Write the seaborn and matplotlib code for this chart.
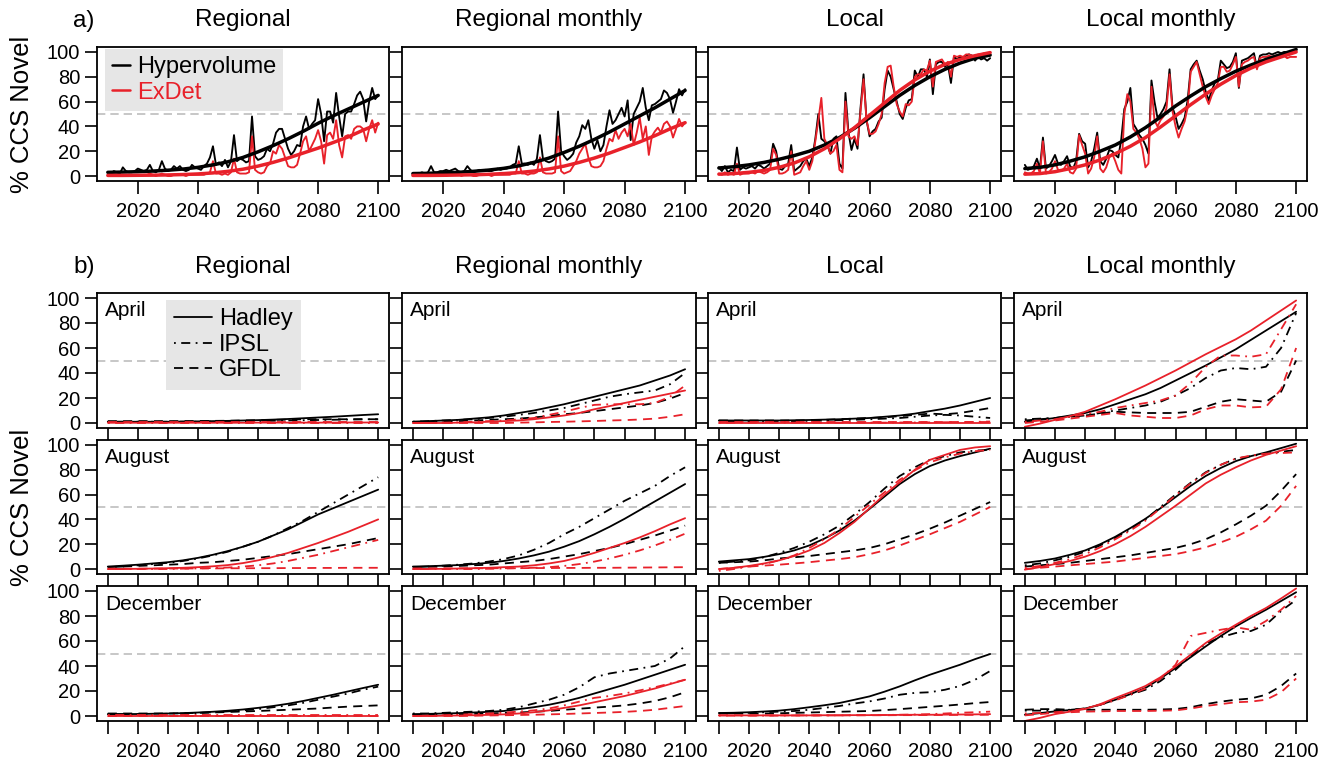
import matplotlib
matplotlib.use("Agg")
import matplotlib.pyplot as plt
import seaborn as sns
from matplotlib.lines import Line2D

# ---------------- data: panel a) (annual, 2010-2100) ----------------
YEARS_A = list(range(2010, 2101))
YEARS_FIT = list(range(2010, 2101, 5))

REG_HV = [3,2,4,3,2,7,4,3,3,4, 6,5,4,5,9,4,3,5,12,6, 4,5,8,6,8,5,4,5,9,7,
          6,5,8,10,15,24,9,11,8,13, 7,12,33,12,14,13,11,12,48,16,
          13,14,16,22,20,26,35,38,38,30, 22,17,20,25,24,40,48,38,42,45,
          62,50,28,52,52,43,67,48,32,50, 52,52,58,65,68,62,44,60,71,62, 65]
REG_ED = [0,0,0,0,0,0,0,0,0,0, 0,0,1,1,2,1,0,1,2,1, 0,0,1,1,1,1,0,1,1,1,
          1,1,1,2,3,12,2,2,1,2, 1,3,14,3,2,2,2,3,32,5,
          3,2,3,8,10,20,18,25,22,15, 8,7,7,9,18,28,32,20,25,30,
          37,28,10,33,35,30,45,25,15,32, 33,30,38,40,40,38,28,38,45,35, 43]
REGM_HV = [2,2,2,3,2,3,8,3,3,4, 4,5,4,5,6,4,3,4,8,5, 3,4,5,4,5,4,4,5,6,5,
           6,6,7,9,10,24,10,10,9,11, 9,14,33,14,12,11,12,14,52,20,
           16,13,15,18,27,32,41,38,45,30, 22,29,20,25,40,53,42,45,50,55,
           48,61,29,50,55,60,71,55,45,57, 58,60,62,69,67,62,51,60,70,65, 70]
REGM_ED = [0,0,0,0,0,0,1,0,0,0, 0,0,1,1,2,2,0,1,1,1, 0,0,1,1,1,1,0,1,1,1,
           1,1,1,2,2,12,2,2,1,2, 2,3,15,3,2,2,2,3,32,4,
           2,3,4,8,12,18,22,26,15,8, 7,7,8,12,22,30,28,37,30,35,
           38,32,42,25,35,47,30,40,17,32, 36,39,35,42,44,40,31,38,46,40, 43]
LOC_HV = [7,4,8,3,5,4,23,5,7,6, 7,8,6,9,8,6,8,10,26,20, 6,5,8,10,25,4,6,8,12,14,
          8,15,30,50,30,28,25,18,30,32, 10,6,67,35,21,30,22,55,82,45,
          32,36,38,44,47,70,85,80,70,60, 50,46,55,61,62,85,80,86,86,80,
          94,66,90,92,92,88,90,75,96,94, 96,95,97,98,97,93,96,94,95,93, 95]
LOC_ED = [2,1,3,1,2,1,10,1,2,2, 2,3,2,4,3,2,3,5,22,17, 2,2,3,5,20,1,2,3,8,12,
          5,12,28,45,63,30,25,18,20,25, 5,3,60,32,30,32,25,52,78,45,
          34,34,36,42,50,75,88,89,72,58, 52,48,58,57,60,80,82,82,86,85,
          93,72,92,93,94,90,92,80,97,96, 97,96,98,98,97,96,98,98,99,99, 99]
LOCM_HV = [9,5,6,8,14,6,31,6,8,12, 17,10,9,12,16,8,6,12,34,28, 26,7,12,22,35,12,9,14,21,20,
           17,15,30,54,60,71,42,38,33,30, 25,18,77,60,47,50,54,60,86,55,
           48,38,42,47,61,86,90,93,85,78, 68,61,69,75,77,93,90,87,88,92,
           99,71,93,94,95,97,99,87,97,98, 98,99,98,99,100,99,100,100,99,100, 101]
LOCM_ED = [3,2,2,4,10,2,28,2,3,6, 12,5,4,6,10,3,2,6,33,25, 18,2,6,15,32,6,3,7,15,18,
           12,5,2,50,66,60,38,35,30,22, 7,10,72,45,40,45,48,55,82,52,
           40,31,38,44,55,84,88,92,82,72, 64,58,65,70,75,88,88,84,85,90,
           96,72,90,92,93,95,96,86,95,96, 96,97,96,97,97,96,97,95,96,96, 96]

# smooth fits (5-yearly)
REG_HV_FIT = [3,3.2,3.5,4,4.7,5.6,7,9,11.5,15,19.5,24.5,30,36,42.5,48.5,54,59.5,65]
REG_ED_FIT = [0.5,0.5,0.6,0.7,0.9,1.2,1.7,2.5,3.8,5.5,8,11,14.5,18.5,22.5,27,31.5,37,42]
REGM_HV_FIT = [2,2.2,2.6,3,3.8,4.8,6.2,8.2,11,14.5,19,24,29.5,35.5,42,48.5,55,62,69]
REGM_ED_FIT = [0.5,0.5,0.6,0.8,1,1.4,2,2.8,4,5.7,8,11,14.5,18.5,23,27.5,32.5,38,43]
LOC_HV_FIT = [6.5,7.5,9,11,13.5,16.5,20,25,31,38.5,47,56,65,73,80,86,91,95,97.5]
LOC_ED_FIT = [1.5,2,3,4.5,7,10.5,15.5,22,30,39,49,59,69,77.5,84.5,90,94,97,99.5]
LOCM_HV_FIT = [6,7,9,12,15.5,20,25,31.5,39,47.5,56.5,64.5,72,78.5,84.5,89.5,94,98,102]
LOCM_ED_FIT = [1.5,2,3.5,6,9,13,18,24,31,39.5,48.5,57.5,66,74,81,87,92,96,100]

# ---------------- data: panel b) (5-yearly, 2010-2100) ----------------
YEARS_B = list(range(2010, 2101, 5))

# Regional, April
REG_APR_HV_HAD = [1,1,1,1,1,1.2,1.3,1.5,1.7,2,2.3,2.7,3.2,3.8,4.4,5,5.7,6.4,7]
REG_APR_HV_IPSL = [1,1,1,1,1,1,1,1.2,1.3,1.5,1.6,1.8,2,2.2,2.4,2.6,2.8,3,3]
REG_APR_HV_GFDL = [1.5,1.5,1.5,1.5,1.5,1.5,1.6,1.7,1.8,2,2.2,2.5,2.7,3,3,3,3,3,3]
REG_APR_ED_HAD = [0.2,0.2,0.2,0.2,0.2,0.2,0.2,0.2,0.2,0.2,0.3,0.3,0.3,0.3,0.3,0.3,0.4,0.4,0.4]
REG_APR_ED_IPSL = [0.3,0.3,0.3,0.3,0.3,0.3,0.3,0.3,0.3,0.3,0.3,0.3,0.3,0.3,0.3,0.3,0.3,0.3,0.3]
REG_APR_ED_GFDL = [0.5,0.5,0.5,0.5,0.5,0.5,0.5,0.5,0.5,0.5,0.5,0.5,0.5,0.5,0.5,0.5,0.5,0.5,0.5]
# Regional monthly, April
REGM_APR_HV_HAD = [1,1.5,2,2.5,3.5,4.5,6,8,10,12.5,15,18,21,24,27,30,34,38,43]
REGM_APR_HV_IPSL = [1,1.5,2,2.5,3,4,5,6.5,8,10,12,15,18,21,23,24.5,26,31,40]
REGM_APR_HV_GFDL = [1,1,1.5,1.5,2,2.5,3,3.5,4.5,5.5,7,8,9.5,11,12.5,14,16,19.5,24]
REGM_APR_ED_HAD = [0,0,0,0.3,0.5,1,1.5,2,3,4.5,6,8,11,13.5,16,18.5,21,23.5,26]
REGM_APR_ED_IPSL = [0,0,0.3,0.5,1,1.5,2,3,4,6.5,9,12,14.5,15,15,15,16,21,30]
REGM_APR_ED_GFDL = [0,0,0,0,0,0,0,0.3,0.5,0.8,1,1.3,1.6,2,2.3,2.8,3.5,5,7]
# Local, April
LOC_APR_HV_HAD = [2,2,2,2,2,2.2,2.4,2.7,3,3.5,4,5,6,7.5,9.5,11.5,14,17,20]
LOC_APR_HV_IPSL = [1.5,1.5,1.5,1.5,1.5,1.5,1.7,2,2.3,2.6,3,3.5,4,5,6,6.5,6,5,4]
LOC_APR_HV_GFDL = [2,2,2,2,2,2,2.2,2.5,3,3.5,4,4.5,5.5,6.5,7.5,7,8,10,12]
LOC_APR_ED_HAD = [0.3,0.3,0.3,0.3,0.3,0.3,0.3,0.3,0.3,0.3,0.3,0.3,0.3,0.3,0.3,0.3,0.3,0.3,0.3]
LOC_APR_ED_IPSL = [0.3,0.3,0.3,0.3,0.3,0.3,0.3,0.3,0.3,0.3,0.3,0.3,0.4,0.4,0.5,0.6,0.7,0.9,1.2]
LOC_APR_ED_GFDL = [0.5,0.5,0.5,0.5,0.5,0.5,0.5,0.5,0.5,0.5,0.5,0.5,0.5,0.5,0.5,0.5,0.5,0.5,0.5]
# Local monthly, April
LOCM_APR_HV_HAD = [1,2.5,4,6,8,11,15,19,23,28,34,40,46,52.5,59,66.5,74,81.5,89]
LOCM_APR_HV_IPSL = [3,3.5,4,5,6,8,10,12,14,17,22,28,36,42,44,43,45,60,88]
LOCM_APR_HV_GFDL = [2,3,4,5,6,7.5,9,8.5,8,8,8,9,13,17,19,18,17,25,50]
LOCM_APR_ED_HAD = [-3,-0.5,2.5,5.5,9,14,19,24.5,30,36,42,48.5,55,61,67,74,82,90,98]
LOCM_APR_ED_IPSL = [1,2,3,5,7,9,12,14,16,18,22,32,45,54,54,53,55,75,95]
LOCM_APR_ED_GFDL = [0,1,2,3.5,5,6.5,8,6,5,4,4,6,11,14,14,12.5,13,27,60]

# Regional, August
REG_AUG_HV_HAD = [2,2.7,3.5,4.5,5.5,7,9,11.5,14.5,18,22,27,32,38,44,49,54,59,64]
REG_AUG_HV_IPSL = [1.5,2,3,4,5,6.5,8.5,11,14,18,22,27,33,39,46,53,60,67,74]
REG_AUG_HV_GFDL = [1.5,2,2.5,3,3.5,4,5,5.5,6.5,7.5,9,10.5,12,14,16,18,20,22.5,25]
REG_AUG_ED_HAD = [0,0,0.2,0.4,0.7,1,1.5,2.2,3.2,4.8,7,9.8,13,17,21,25.5,30,35,40]
REG_AUG_ED_IPSL = [0,0,0,0,0,0.3,0.5,0.8,1.2,2,3,4.5,6.5,9,11.5,14.5,17.5,20.5,23.5]
REG_AUG_ED_GFDL = [0.3,0.3,0.3,0.3,0.4,0.4,0.5,0.5,0.6,0.6,0.7,0.7,0.8,0.8,0.9,0.9,1,1,1]
# Regional monthly, August
REGM_AUG_HV_HAD = [2,2.3,2.7,3.2,4,5,6.5,8.5,11,14,18,22.5,28,34,40.5,47.5,54.5,61.5,68.5]
REGM_AUG_HV_IPSL = [1.5,2,2.7,3.5,4.5,6,8,11,15.5,21,28,34,41,48,55,61,67,75,82]
REGM_AUG_HV_GFDL = [1.5,1.8,2,2.5,3,3.5,4.5,5.5,6.5,8,10,12,14.5,17,20,23.5,27,31,35]
REGM_AUG_ED_HAD = [0,0,0.2,0.4,0.7,1,1.5,2,3,4.5,6.5,9.5,13,17,21,25.5,30.5,36,41]
REGM_AUG_ED_IPSL = [0,0,0,0,0,0.2,0.4,0.7,1,1.5,2.5,4,6,8.5,11.5,15,19,23.5,28.5]
REGM_AUG_ED_GFDL = [0.5,0.5,0.5,0.5,0.6,0.6,0.7,0.7,0.8,0.8,0.9,0.9,1,1,1.1,1.2,1.3,1.4,1.5]
# Local, August
LOC_AUG_HV_HAD = [6,7,8,9.8,12,15,19,24.5,31,39,48.5,58.5,68.5,76.5,83,87.5,91,94,97]
LOC_AUG_HV_IPSL = [5,6,7,9.5,13,17,22,28,35,44,54,65,75,82,88,91,94,95.5,96]
LOC_AUG_HV_GFDL = [5,5.5,6,7,8.5,9.5,10.5,12,13.5,15,17,20,24,28,32.5,37.5,43,48.5,54]
LOC_AUG_ED_HAD = [0,1,2.5,4.5,7,10.5,15,21,29,38,49,60,70,80,88,92,96,98,99]
LOC_AUG_ED_IPSL = [-1.5,0,2,4,7,11,17,24,32,42,52,62,72,79.5,86,90,93,95,96]
LOC_AUG_ED_GFDL = [0,1,2,2.8,3.5,4.5,5.5,6.8,8,9.5,12,15,19,23.5,28,33,38,44,50]
# Local monthly, August
LOCM_AUG_HV_HAD = [5,6.5,8.5,11.5,15,20,26,33,40.5,49,58,67,75,81.5,87,91,94,97.5,101]
LOCM_AUG_HV_IPSL = [3,4.5,7,10,14,19,25,32,40,50,60,69.5,78,84,89,91,93,94.5,96]
LOCM_AUG_HV_GFDL = [2,3,4,5,6.5,8,9.5,11,13,15,17,20,24,29.5,36,43,51,63,76.5]
LOCM_AUG_ED_HAD = [-0.5,1.5,4,6.5,10,14.5,20,26.5,34,42.5,51,60,69,76,82,87.5,92,95.5,99]
LOCM_AUG_ED_IPSL = [1,2.5,5,8,12,17.5,24,31,39,49,59.5,69,77.5,84,89,91.5,93,93.5,94]
LOCM_AUG_ED_GFDL = [0,1,2,3,4,5,6,7.5,9,10.5,12,14.5,17.5,21.5,26,32,39,51,67]

# Regional, December
REG_DEC_HV_HAD = [1.5,1.5,1.6,1.8,2,2.3,2.8,3.4,4.2,5.2,6.5,8,9.8,12,14.5,17,19.7,22.4,25]
REG_DEC_HV_IPSL = [1.5,1.5,1.5,1.6,1.8,2,2.4,3,3.7,4.5,5.5,7,8.5,10.5,13,15.5,18,21,23.5]
REG_DEC_HV_GFDL = [2,2,2,2,2,2.2,2.5,2.8,3.2,3.6,4,4.5,5,5.5,6,6.8,7.5,8,8.5]
REG_DEC_ED_HAD = [0.3,0.3,0.3,0.3,0.3,0.3,0.3,0.3,0.3,0.3,0.3,0.3,0.3,0.3,0.3,0.3,0.3,0.3,0.3]
REG_DEC_ED_IPSL = [0.5,0.5,0.5,0.5,0.5,0.5,0.5,0.5,0.5,0.5,0.5,0.5,0.5,0.5,0.5,0.5,0.5,0.5,0.5]
REG_DEC_ED_GFDL = [0.2,0.2,0.2,0.2,0.2,0.2,0.2,0.2,0.2,0.2,0.2,0.2,0.2,0.2,0.2,0.2,0.2,0.2,0.2]
# Regional monthly, December
REGM_DEC_HV_HAD = [1.5,1.7,2,2.3,2.8,3.3,4,5.5,7,9,11.5,14.5,18,21.5,25,29,33,37,41]
REGM_DEC_HV_IPSL = [2,2,2.5,3,3.5,4,5,7,10,13,17,23,31,34,36,38,40,46,56]
REGM_DEC_HV_GFDL = [1,1,1.2,1.4,1.7,2,2.4,2.8,3.4,4,5,5.8,6.7,7.5,8.5,10,12,15,19]
REGM_DEC_ED_HAD = [0,0,0.2,0.4,0.6,0.9,1.3,2,3,4.5,6.5,8.5,11,13.5,16,19,22,25.5,29]
REGM_DEC_ED_IPSL = [0,0.3,0.6,1,1.5,2,2.7,3.5,4.5,6,8.5,11.5,14.5,16,18,20.5,23,26,29]
REGM_DEC_ED_GFDL = [0,0,0,0,0.2,0.4,0.6,0.8,1,1.3,1.6,2,2.4,2.8,3.3,4,5,6.5,8]
# Local, December
LOC_DEC_HV_HAD = [2.4,2.6,3,3.6,4.3,5.5,7,8.6,10.4,13,15.7,19.5,23.7,28.5,33,37,41,45.5,49.6]
LOC_DEC_HV_IPSL = [2,2.2,2.5,3,3.5,4,5,6.5,8,10,11.7,14,17,18.5,19,21,24,29,36]
LOC_DEC_HV_GFDL = [2,2,2,2,2.2,2.5,2.8,3.1,3.4,3.7,4,4.7,5.5,6.4,7.3,8.2,9.2,10.3,11.2]
LOC_DEC_ED_HAD = [0.5,0.5,0.5,0.5,0.5,0.5,0.5,0.6,0.6,0.7,0.7,0.8,0.9,1,1,1.1,1.2,1.3,1.5]
LOC_DEC_ED_IPSL = [0.3,0.3,0.3,0.3,0.3,0.4,0.4,0.5,0.5,0.6,0.7,0.8,1,1.2,1.5,2,2.6,3,3.5]
LOC_DEC_ED_GFDL = [0.5,0.5,0.5,0.5,0.5,0.5,0.5,0.5,0.5,0.6,0.6,0.6,0.7,0.7,0.8,0.8,0.9,0.9,1]
# Local monthly, December
LOCM_DEC_HV_HAD = [1,2.3,3.7,4.8,6,9,13,17.5,22.4,30,38.4,47,55.7,64,71.7,78.5,85,92,99]
LOCM_DEC_HV_IPSL = [4.3,4.3,4.5,5,6,9,13,17,21,28,37,48,58,63,66.4,68,73,84,93]
LOCM_DEC_HV_GFDL = [5,5.5,5.5,5,5,5,5,5,5,5.2,5.6,7,9.5,11.5,13,14,17,24,34]
LOCM_DEC_ED_HAD = [-4,-1.5,1.5,3.5,5.6,9.5,14.4,19,24,31,39.7,49,58.4,66,73,80,86.4,94,102]
LOCM_DEC_ED_IPSL = [2,2.5,3,4,6,9,12.5,17,22,30,41,64,66.5,69,71,69,76,85,96]
LOCM_DEC_ED_GFDL = [0.5,1.5,2.5,3,3.5,3.7,4,4,4,4.2,4.5,6,8,9.5,11,11.5,13,19,30]

COLUMNS = ["Regional", "Regional monthly", "Local", "Local monthly"]
MONTHS = ["April", "August", "December"]
MODELS = ["Hadley", "IPSL", "GFDL"]
METHODS = ["Hypervolume", "ExDet"]
X_TICKS_A = [2020, 2040, 2060, 2080, 2100]
X_TICKS_B = list(range(2010, 2101, 10))
X_LABELS_B = ["" if y % 20 else str(y) for y in X_TICKS_B]
Y_TICKS = [0, 20, 40, 60, 80, 100]

# tables assembled from the named arrays
A_NOISY = [(REG_HV, REG_ED), (REGM_HV, REGM_ED), (LOC_HV, LOC_ED), (LOCM_HV, LOCM_ED)]
A_FIT = [(REG_HV_FIT, REG_ED_FIT), (REGM_HV_FIT, REGM_ED_FIT),
         (LOC_HV_FIT, LOC_ED_FIT), (LOCM_HV_FIT, LOCM_ED_FIT)]
g = globals()
PREFIX = ["REG", "REGM", "LOC", "LOCM"]
MON = ["APR", "AUG", "DEC"]
MOD = ["HAD", "IPSL", "GFDL"]
MET = ["HV", "ED"]

# ---------------- styling ----------------
sns.set_style("ticks")
plt.rcParams["font.family"] = ["Liberation Sans", "DejaVu Sans"]
plt.rcParams.update({"text.color": "black", "axes.labelcolor": "black",
                     "xtick.color": "black", "ytick.color": "black",
                     "axes.edgecolor": "black"})
RED = "#E8212A"
METHOD_COLORS = ["black", RED]
LS = {"HAD": "-", "IPSL": (0, (1, 3, 5, 3)), "GFDL": (0, (5, 3.5))}
W, H = 1335, 763
COLS_PX = [(97, 389), (402, 696), (708, 1001), (1014, 1307)]
ROW_A = (47, 181)
ROWS_B = [(293, 428), (440, 574), (586, 721)]
TICK_FS = 14.5

fig = plt.figure(figsize=(W / 100, H / 100), dpi=100)


def make_ax(col, row):
    l, r = COLS_PX[col]
    t, b = row
    ax = fig.add_axes([l / W, 1 - b / H, (r - l) / W, (b - t) / H])
    ax.set_xlim(2006.4, 2103.6)
    ax.set_ylim(-4, 104)
    for s in ax.spines.values():
        s.set_linewidth(1.3)
        s.set_color("black")
    ax.tick_params(direction="out", length=9, width=1.2, color="black",
                   labelcolor="black", labelsize=TICK_FS, pad=3)
    ax.tick_params(axis="x", pad=6)
    ax.axhline(50, color="#BEBEBE", lw=1.2, ls=(0, (5, 3)), zorder=0)
    ax.set_yticks(Y_TICKS)
    if col > 0:
        ax.set_yticklabels([])
    return ax


# ---- panel a)
for c in range(4):
    ax = make_ax(c, ROW_A)
    for m in range(2):
        sns.lineplot(x=YEARS_A, y=A_NOISY[c][m], ax=ax, color=METHOD_COLORS[m],
                     lw=1.35, estimator=None, errorbar=None, legend=False)
    for m in range(2):
        sns.lineplot(x=YEARS_FIT, y=A_FIT[c][m], ax=ax, color=METHOD_COLORS[m],
                     lw=2.5, estimator=None, errorbar=None, legend=False)
    ax.set_xticks(X_TICKS_A)
    ax.set_xlim(2006.4, 2103.6)
    ax.set_ylim(-4, 104)
    ax.set_xlabel("")
    ax.set_ylabel("")
    fig.text(((COLS_PX[c][0] + COLS_PX[c][1]) / 2) / W, 1 - 20 / H, COLUMNS[c],
             ha="center", va="center", fontsize=17.5)
    if c == 0:
        hs = [Line2D([], [], color=col, lw=1.8) for col in METHOD_COLORS]
        leg = ax.legend(hs, METHODS, loc="upper left",
                        bbox_to_anchor=(8 / 292, 1 - 2 / 134), frameon=True,
                        fancybox=False, facecolor="#E6E6E6", edgecolor="none",
                        framealpha=1, fontsize=17, handlelength=0.75,
                        handletextpad=0.3, borderaxespad=0, borderpad=0.3,
                        labelspacing=0.15)
        for t, col in zip(leg.get_texts(), METHOD_COLORS):
            t.set_color(col)

# ---- panel b)
for r in range(3):
    for c in range(4):
        ax = make_ax(c, ROWS_B[r])
        for mi, met in enumerate(MET):
            for mod in MOD:
                vals = g[f"{PREFIX[c]}_{MON[r]}_{met}_{mod}"]
                sns.lineplot(x=YEARS_B, y=vals, ax=ax, color=METHOD_COLORS[mi],
                             lw=1.3, linestyle=LS[mod], estimator=None,
                             errorbar=None, legend=False)
        ax.set_xticks(X_TICKS_B)
        if r == 2:
            ax.set_xticklabels(X_LABELS_B)
        else:
            ax.set_xticklabels([])
        ax.set_xlim(2006.4, 2103.6)
        ax.set_ylim(-4, 104)
        ax.set_xlabel("")
        ax.set_ylabel("")
        ax.text(8 / 292, 1 - 18 / 135, MONTHS[r], transform=ax.transAxes,
                ha="left", va="center", fontsize=15)
        if r == 0:
            fig.text(((COLS_PX[c][0] + COLS_PX[c][1]) / 2) / W, 1 - 267 / H,
                     COLUMNS[c], ha="center", va="center", fontsize=17.5)
        if r == 0 and c == 0:
            hs = [Line2D([], [], color="black", lw=1.3, linestyle=LS[m]) for m in MOD]
            leg = ax.legend(hs, MODELS, loc="upper left",
                            bbox_to_anchor=(69 / 292, 1 - 7 / 135), frameon=True,
                            fancybox=False, facecolor="#E6E6E6", edgecolor="none",
                            framealpha=1, fontsize=17, handlelength=1.6,
                            handletextpad=0.3, borderaxespad=0, borderpad=0.35,
                            labelspacing=0.15)

fig.text(84 / W, 1 - 21 / H, "a)", ha="center", va="center", fontsize=17.5)
fig.text(84 / W, 1 - 267 / H, "b)", ha="center", va="center", fontsize=17.5)
fig.text(22 / W, 1 - 114 / H, "% CCS Novel", rotation=90, ha="center",
         va="center", fontsize=18.5)
fig.text(22 / W, 1 - 507 / H, "% CCS Novel", rotation=90, ha="center",
         va="center", fontsize=18.5)

fig.savefig("out.png", dpi=100)
